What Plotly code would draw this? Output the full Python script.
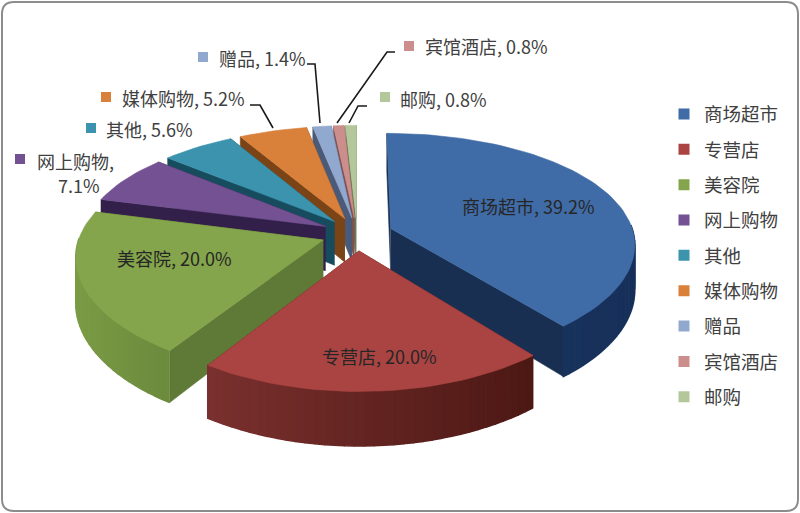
import numpy as np
import plotly.graph_objects as go

categories = ["商场超市", "专营店", "美容院", "网上购物", "其他", "媒体购物", "赠品", "宾馆酒店", "邮购"]
values = [39.2, 20.0, 20.0, 7.1, 5.6, 5.2, 1.4, 0.8, 0.8]
top_colors = ["#3f6ca6", "#a94442", "#84a54b", "#735192", "#3b93ae", "#d9803a", "#92a9cf", "#cc8e8c", "#b3c79a"]
wall_left = ["#17375e", "#7a302e", "#7b9b45", "#32204a", "#174c5e", "#7a4416", "#46587a", "#7d5150", "#6a7c52"]
wall_right = ["#17305a", "#4c1814", "#6b8a3d", "#32204a", "#174c5e", "#7a4416", "#46587a", "#7d5150", "#6a7c52"]
radial_colors = ["#182f52", "#5a1f1c", "#5f7a36", "#32204a", "#174c5e", "#7a4416", "#4b5a78", "#7d5150", "#6a7c52"]
draw_order = [8, 7, 6, 5, 4, 3, 0, 2, 1]

# projection of the tilted pie onto the pixel-sized axes
CX, CY, A, B, PX, PY, EXPLODE, DEPTH = 357, 234, 243, 112, 0.13, 0.16, 0.148, 44.5

callouts = [
    ("商场超市, 39.2%", 460, 206, 0),
    ("专营店, 20.0%", 320, 356, 1),
    ("美容院, 20.0%", 115, 258, 2),
    ("网上购物,", 35, 161, 3),
    ("7.1%", 56, 185, 3),
    ("其他, 5.6%", 104, 129, 4),
    ("媒体购物, 5.2%", 120, 98, 5),
    ("赠品, 1.4%", 217, 58, 6),
    ("宾馆酒店, 0.8%", 423, 46, 7),
    ("邮购, 0.8%", 398, 99, 8),
]
swatches_x = [20, 91, 106, 203, 409, 385]
swatches_y = [159, 128, 97, 57, 46, 97]
swatch_idx = [3, 4, 5, 6, 7, 8]
leaders = [
    ([250, 260, 273], [105, 105, 128]),
    ([307, 315, 320], [64, 64, 123]),
    ([395, 387, 337], [52, 52, 123]),
    ([367, 358, 349], [106, 106, 123]),
]


def project(u, v):
    sx = 1 / (1 - PX * v)
    sy = 1 / (1 - PY * v)
    return CX + A * u * sx, CY + B * v * sy, DEPTH * sy


def hexmix(c1, c2, t):
    a = [int(c1[i:i + 2], 16) for i in (1, 3, 5)]
    b = [int(c2[i:i + 2], 16) for i in (1, 3, 5)]
    return "#%02x%02x%02x" % tuple(round(x + (y - x) * t) for x, y in zip(a, b))


fig = go.Figure()
total = sum(values)
edges = np.cumsum([0] + values) / total * 2 * np.pi


def poly(xs, ys, color, width=0.6):
    fig.add_trace(go.Scatter(x=xs, y=ys, mode="lines", fill="toself", fillcolor=color,
                             line=dict(color=color, width=width), showlegend=False, hoverinfo="skip"))


for i in draw_order:
    t0, t1 = edges[i], edges[i + 1]
    mid = (t0 + t1) / 2
    du, dv = EXPLODE * np.sin(mid), -EXPLODE * np.cos(mid)
    tips = project(du, dv)
    ts = np.linspace(t0, t1, max(4, int((t1 - t0) * 30)))
    pts = [project(du + np.sin(t), dv - np.cos(t)) for t in ts]
    px = [p[0] for p in pts]
    py = [p[1] for p in pts]
    pd_ = [p[2] for p in pts]
    # radial walls
    for p in (pts[0], pts[-1]):
        poly([tips[0], p[0], p[0], tips[0]],
             [tips[1], p[1], p[1] + p[2], tips[1] + tips[2]], radial_colors[i])
    # outer wall: shaded strips on the part of the rim that faces the viewer
    xmin, xmax = min(px), max(px)
    for k in range(len(pts) - 1):
        if np.cos((ts[k] + ts[k + 1]) / 2) > 0.02:
            continue
        frac = ((px[k] + px[k + 1]) / 2 - xmin) / max(xmax - xmin, 1)
        poly([px[k], px[k + 1], px[k + 1], px[k]],
             [py[k], py[k + 1], py[k + 1] + pd_[k + 1], py[k] + pd_[k]],
             hexmix(wall_left[i], wall_right[i], frac), width=1.5)
    # top face
    poly([tips[0]] + px + [tips[0]], [tips[1]] + py + [tips[1]], top_colors[i])

for xs, ys in leaders:
    fig.add_trace(go.Scatter(x=xs, y=ys, mode="lines", line=dict(color="#1a1a1a", width=1.6),
                             showlegend=False, hoverinfo="skip"))

fig.add_trace(go.Scatter(x=swatches_x, y=swatches_y, mode="markers",
                         marker=dict(symbol="square", size=10, color=[top_colors[k] for k in swatch_idx]),
                         showlegend=False, hoverinfo="skip"))

for i, name in enumerate(categories):
    fig.add_trace(go.Scatter(x=[None], y=[None], mode="markers", name=name, legendgroup=name,
                             marker=dict(symbol="square", size=11, color=top_colors[i])))

annotations = [dict(x=x, y=y, xref="x", yref="y", text=t, showarrow=False, xanchor="left", yanchor="middle",
                    font=dict(size=18, color="#404040" if c > 2 else "#262626",
                              family="Noto Sans CJK SC"))
               for t, x, y, c in callouts]

frame = ("M 14 2 L 786 2 Q 798 2 798 14 L 798 499 Q 798 511 786 511 "
         "L 14 511 Q 2 511 2 499 L 2 14 Q 2 2 14 2 Z")

fig.update_layout(
    width=800, height=513, autosize=False,
    margin=dict(l=0, r=0, t=0, b=0),
    paper_bgcolor="white", plot_bgcolor="white",
    xaxis=dict(range=[0, 800], visible=False, fixedrange=True),
    yaxis=dict(range=[513, 0], visible=False, fixedrange=True),
    annotations=annotations,
    shapes=[dict(type="path", path=frame, line=dict(color="#8c8c8c", width=2), layer="below")],
    legend=dict(x=0.83, y=0.814, xanchor="left", yanchor="top", tracegroupgap=8.3,
                font=dict(size=18.5, color="#404040", family="Noto Sans CJK SC"),
                itemwidth=30, bgcolor="rgba(0,0,0,0)"),
)
fig.write_html("out.html", config={"displayModeBar": False},
               post_script="document.body.style.margin='0';document.body.style.overflow='hidden';")
